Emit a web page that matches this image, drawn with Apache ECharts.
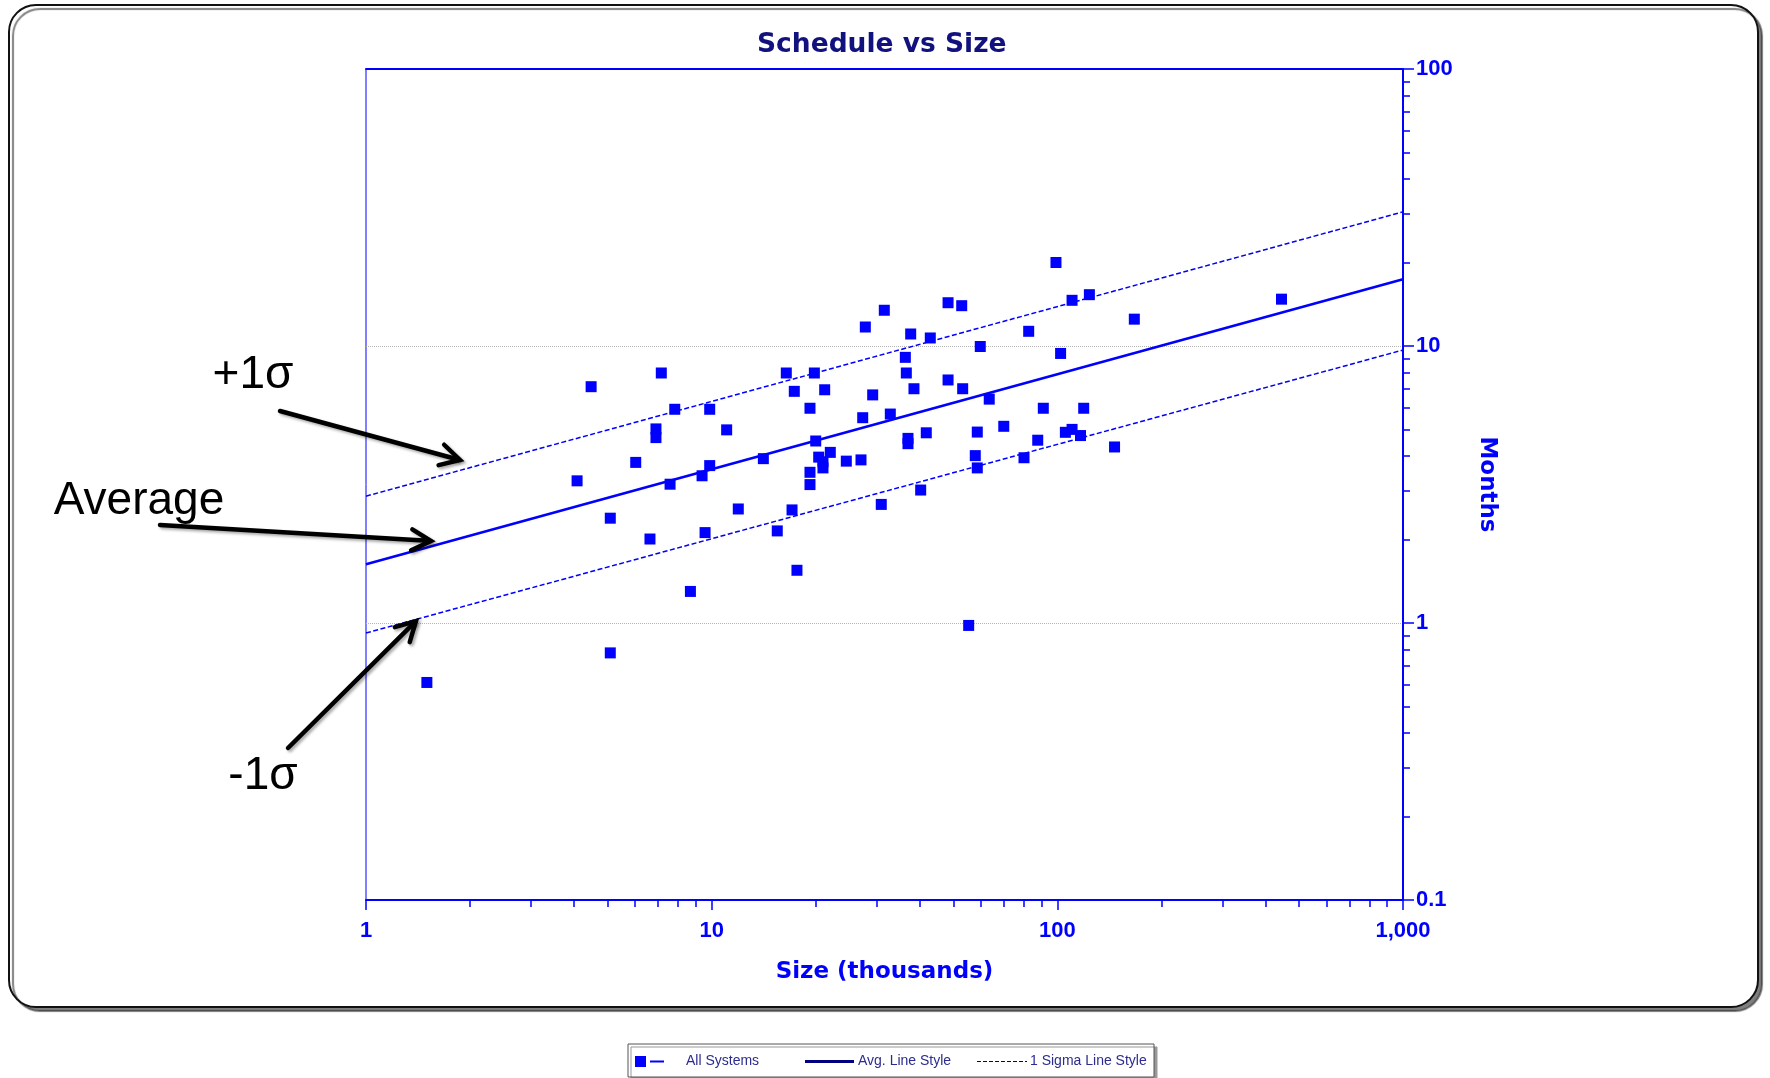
<!DOCTYPE html>
<html><head><meta charset="utf-8">
<script src="https://cdn.jsdelivr.net/npm/echarts@6/dist/echarts.min.js"></script>
<style>html,body{margin:0;padding:0;background:#fff}#c{width:1770px;height:1078px}</style>
</head><body><div id="c"></div>
<script>
// ---- data ----
const sizeK = [1.50, 5.09, 4.48, 4.08, 5.09, 6.03, 6.63, 6.90, 6.90, 7.15,
  7.58, 7.82, 8.68, 9.38, 9.57, 9.87, 9.87, 11.05, 11.94, 14.11,
  15.48, 16.44, 17.08, 17.34, 17.65, 19.25, 19.25, 19.25, 19.82, 20.0,
  20.40, 20.99, 20.99, 21.23, 22.04, 24.52, 27.04, 27.35, 27.83, 29.23,
  30.95, 31.58, 32.87, 36.33, 36.57, 36.98, 36.98, 37.65, 38.48, 40.24,
  41.77, 42.90, 48.29, 48.29, 52.89, 53.23, 55.4, 57.89, 58.67, 58.67,
  59.85, 63.53, 69.99, 80.09, 82.63, 87.76, 91.08, 99.1, 102.2, 105.5,
  110.3, 110.3, 116.7, 119.2, 123.8, 146.4, 167.0, 445.2];
const months = [0.61, 0.78, 7.13, 3.26, 2.39, 3.80, 2.01, 5.02, 4.67, 7.99,
  3.17, 5.91, 1.30, 3.40, 2.12, 3.70, 5.91, 4.98, 2.58, 3.92,
  2.15, 7.99, 2.56, 6.86, 1.55, 5.96, 3.50, 3.16, 7.99, 4.54,
  3.97, 3.82, 3.63, 6.95, 4.13, 3.84, 3.88, 5.51, 11.71, 6.66,
  2.68, 13.46, 5.68, 9.10, 7.99, 4.64, 4.44, 11.05, 7.01, 3.02,
  4.86, 10.69, 14.33, 7.54, 13.98, 7.01, 0.98, 4.02, 4.89, 3.63,
  9.96, 6.43, 5.13, 3.95, 11.30, 4.57, 5.96, 20.02, 9.40, 4.88,
  14.62, 5.00, 4.75, 5.96, 15.32, 4.32, 12.50, 14.76];
const lineX  = [1, 1000];
const avgY   = [1.63, 17.4];
const upperY = [2.87, 30.5];
const lowerY = [0.92, 9.67];
const xMinorTicks = [2,3,4,5,6,7,8,9, 20,30,40,50,60,70,80,90, 200,300,400,500,600,700,800,900];
const yMinorTicks = [0.2,0.3,0.4,0.5,0.6,0.7,0.8,0.9, 2,3,4,5,6,7,8,9, 20,30,40,50,60,70,80,90];
const legendNames = ['All Systems', 'Avg. Line Style', '1 Sigma Line Style'];
const annotations = ['+1σ', 'Average', '-1σ'];

const BLUE = '#0000ff';
const chart = echarts.init(document.getElementById('c'), null, {renderer: 'canvas'});

function arrow(x1, y1, x2, y2) {
  const a = Math.atan2(y2 - y1, x2 - x1), L = 22, s = 0.5;
  const p1 = [x2 - L * Math.cos(a - s), y2 - L * Math.sin(a - s)];
  const p2 = [x2 - L * Math.cos(a + s), y2 - L * Math.sin(a + s)];
  const st = {stroke: '#000', lineWidth: 4.5, fill: null, lineCap: 'round', lineJoin: 'miter',
              shadowColor: 'rgba(0,0,0,0.35)', shadowBlur: 3, shadowOffsetX: 2, shadowOffsetY: 2};
  return [
    {type: 'polyline', z: 50, shape: {points: [[x1, y1], [x2 - 3 * Math.cos(a), y2 - 3 * Math.sin(a)]]}, style: st},
    {type: 'polyline', z: 50, shape: {points: [p1, [x2, y2], p2]}, style: st}
  ];
}

const annFont = '46px "Liberation Sans", Arial, sans-serif';
const legFont = '14px "Liberation Sans", Arial, sans-serif';
const NAVY = '#000080';
const LEGTXT = '#2c2c8e';

const graphics = [
  {type: 'rect', z: -10, shape: {x: 9, y: 5, width: 1749, height: 1002, r: 27},
   style: {fill: '#fff', stroke: '#111', lineWidth: 2, shadowColor: 'rgba(0,0,0,0.5)', shadowOffsetX: 4, shadowOffsetY: 4, shadowBlur: 1}},
  {type: 'text', z: 50, style: {text: annotations[0], x: 253, y: 375, font: annFont, fill: '#000', textAlign: 'center', textVerticalAlign: 'middle', verticalAlign: 'middle'}},
  {type: 'text', z: 50, style: {text: annotations[1], x: 139, y: 501, font: annFont, fill: '#000', textAlign: 'center', textVerticalAlign: 'middle', verticalAlign: 'middle'}},
  {type: 'text', z: 50, style: {text: annotations[2], x: 263, y: 776, font: annFont, fill: '#000', textAlign: 'center', textVerticalAlign: 'middle', verticalAlign: 'middle'}},
  ...arrow(280, 411, 460, 460),
  ...arrow(160, 525, 431, 541),
  ...arrow(288, 748, 416, 621),
  // legend box
  {type: 'rect', z: 5, shape: {x: 628, y: 1044, width: 526, height: 33},
   style: {fill: '#fff', stroke: '#555', lineWidth: 1, shadowColor: '#999', shadowOffsetX: 3, shadowOffsetY: 3}},
  {type: 'rect', z: 6, shape: {x: 635, y: 1056, width: 11, height: 11}, style: {fill: BLUE}},
  {type: 'line', z: 6, shape: {x1: 650, y1: 1061.5, x2: 664, y2: 1061.5}, style: {stroke: BLUE, lineWidth: 2}},
  {type: 'text', z: 6, style: {text: legendNames[0], x: 686, y: 1061, font: legFont, fill: LEGTXT, textVerticalAlign: 'middle', verticalAlign: 'middle'}},
  {type: 'line', z: 6, shape: {x1: 805, y1: 1061.5, x2: 854, y2: 1061.5}, style: {stroke: NAVY, lineWidth: 3}},
  {type: 'text', z: 6, style: {text: legendNames[1], x: 858, y: 1061, font: legFont, fill: LEGTXT, textVerticalAlign: 'middle', verticalAlign: 'middle'}},
  {type: 'line', z: 6, shape: {x1: 977, y1: 1061.5, x2: 1027, y2: 1061.5}, style: {stroke: NAVY, lineWidth: 1.2, lineDash: [4, 2]}},
  {type: 'text', z: 6, style: {text: legendNames[2], x: 1030, y: 1061, font: legFont, fill: LEGTXT, textVerticalAlign: 'middle', verticalAlign: 'middle'}}
];

const tickLabelStyle = {color: BLUE, fontSize: 22, fontWeight: 'bold', fontFamily: '"Liberation Sans Narrow", "Liberation Sans", Arial, sans-serif'};
const nameStyle = {color: BLUE, fontSize: 23, fontWeight: 'bold', fontFamily: '"DejaVu Sans", Verdana, sans-serif'};

const option = {
  animation: false,
  backgroundColor: '#fff',
  title: {text: 'Schedule vs Size', left: 752, top: 27,
    textStyle: {fontFamily: '"DejaVu Sans", Verdana, sans-serif', fontWeight: 'bold', fontSize: 26.5, color: '#12127f'}},
  grid: {left: 366, right: 367, top: 69, bottom: 178, show: true, borderColor: BLUE, borderWidth: 1, backgroundColor: 'transparent'},
  xAxis: [
    {type: 'log', logBase: 10, min: 1, max: 1000, position: 'bottom',
     name: 'Size (thousands)', nameLocation: 'middle', nameGap: 61, nameTextStyle: nameStyle, nameMoveOverlap: false,
     axisLine: {show: true, lineStyle: {color: BLUE, width: 2}},
     axisTick: {show: true, length: 10, lineStyle: {color: BLUE, width: 1.5}},
     axisLabel: Object.assign({margin: 20, showMinLabel: true, showMaxLabel: true,
       formatter: v => Math.round(v).toLocaleString('en-US')}, tickLabelStyle),
     splitLine: {show: false}, minorTick: {show: false}},
    {type: 'log', logBase: 10, min: 1, max: 1000, position: 'bottom',
     axisLine: {show: false},
     axisTick: {show: true, length: 7, customValues: xMinorTicks, lineStyle: {color: BLUE, width: 1.5}},
     axisLabel: {show: false}, splitLine: {show: false}},
    {type: 'log', logBase: 10, min: 1, max: 1000, position: 'top',
     axisLine: {show: true, lineStyle: {color: BLUE, width: 2}},
     axisTick: {show: false}, axisLabel: {show: false}, splitLine: {show: false}}
  ],
  yAxis: [
    {type: 'log', logBase: 10, min: 0.1, max: 100, position: 'right',
     name: 'Months', nameLocation: 'middle', nameRotate: -90, nameGap: 72, nameTextStyle: nameStyle, nameMoveOverlap: false,
     axisLine: {show: true, lineStyle: {color: BLUE, width: 2}},
     axisTick: {show: true, length: 11, lineStyle: {color: BLUE, width: 1.5}},
     axisLabel: Object.assign({margin: 13, showMinLabel: true, showMaxLabel: true,
       formatter: v => String(+(+v).toPrecision(3))}, tickLabelStyle),
     splitLine: {show: true, lineStyle: {type: 'dotted', color: '#b4b4b4', width: 1}}},
    {type: 'log', logBase: 10, min: 0.1, max: 100, position: 'right',
     axisLine: {show: false},
     axisTick: {show: true, length: 7, customValues: yMinorTicks, lineStyle: {color: BLUE, width: 1.5}},
     axisLabel: {show: false}, splitLine: {show: false}}
  ],
  series: [
    {name: legendNames[0], type: 'scatter', xAxisIndex: 0, yAxisIndex: 0, symbol: 'rect', symbolSize: 11,
     itemStyle: {color: BLUE, opacity: 1}, data: sizeK.map((x, i) => [x, months[i]]), z: 4},
    {name: legendNames[1], type: 'line', xAxisIndex: 0, yAxisIndex: 0, showSymbol: false, symbol: 'none',
     lineStyle: {color: BLUE, width: 2.6}, data: lineX.map((x, i) => [x, avgY[i]]), z: 3},
    {name: legendNames[2], type: 'line', xAxisIndex: 0, yAxisIndex: 0, showSymbol: false, symbol: 'none',
     lineStyle: {color: BLUE, width: 1.5, type: [5, 2.5]}, data: lineX.map((x, i) => [x, upperY[i]]), z: 3},
    {name: legendNames[2] + ' (lower)', type: 'line', xAxisIndex: 0, yAxisIndex: 0, showSymbol: false, symbol: 'none',
     lineStyle: {color: BLUE, width: 1.5, type: [5, 2.5]}, data: lineX.map((x, i) => [x, lowerY[i]]), z: 3}
  ],
  graphic: graphics
};
chart.setOption(option);
</script></body></html>
